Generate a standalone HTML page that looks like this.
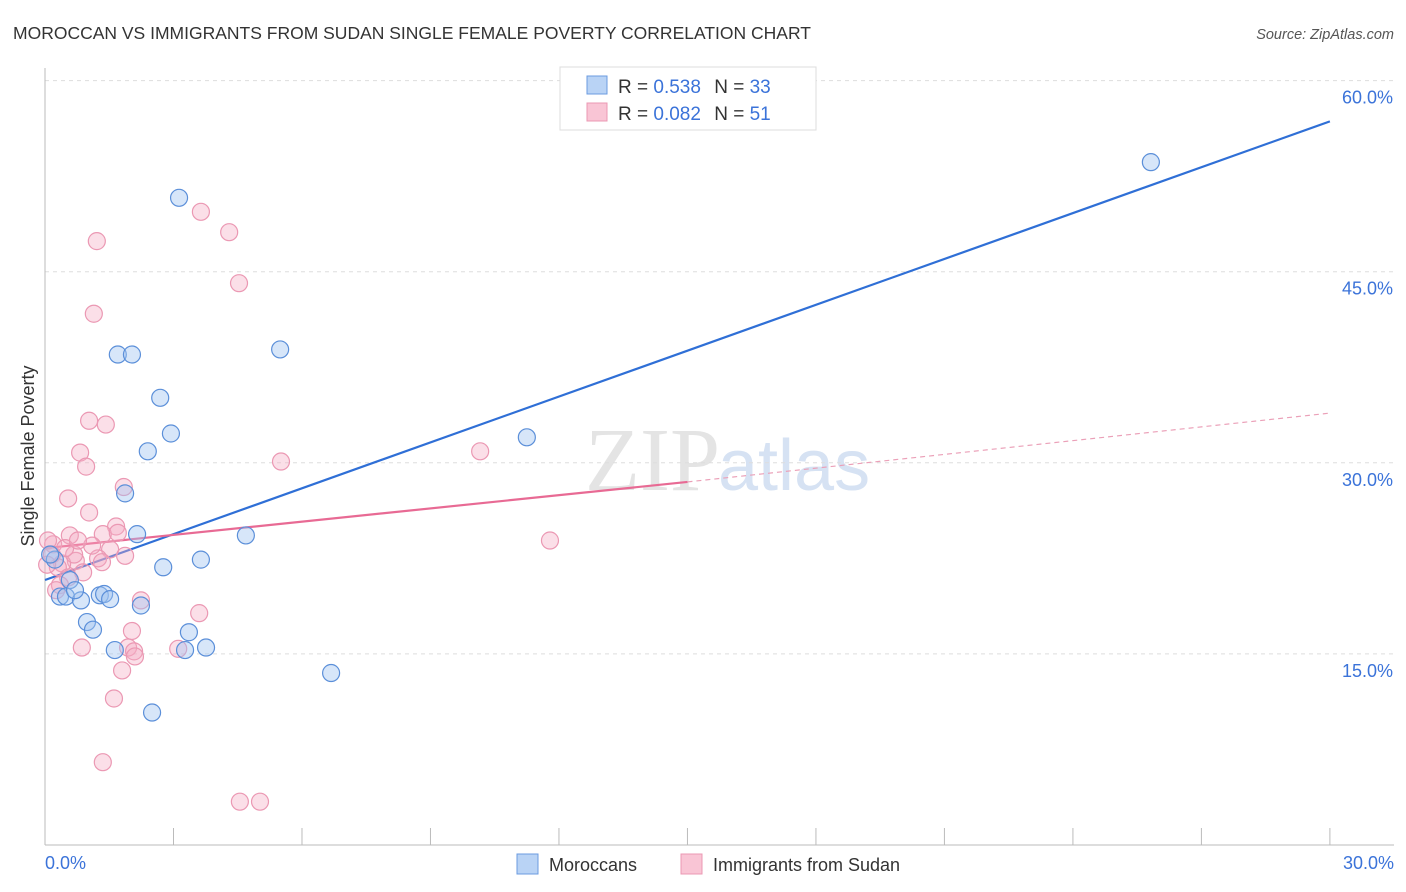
<!DOCTYPE html>
<html><head><meta charset="utf-8"><style>
body{margin:0;background:#fff;font-family:"Liberation Sans",sans-serif}
svg{display:block}
</style></head><body>
<svg id="chart" width="1406" height="892">
<text x="13" y="39" font-size="17.5" fill="#333">MOROCCAN VS IMMIGRANTS FROM SUDAN SINGLE FEMALE POVERTY CORRELATION CHART</text>
<text x="1394" y="39" font-size="14.5" fill="#555" font-style="italic" text-anchor="end">Source: ZipAtlas.com</text>
<text x="720" y="490" font-size="90" fill="#e4e4e4" text-anchor="end" font-family="Liberation Serif,serif">ZIP</text>
<text x="718" y="490" font-size="72" fill="#d6e2f3">atlas</text>
<g id="grid"></g><g id="axes"></g><g id="lines"></g><g id="pts"></g>
<text transform="translate(34,456) rotate(-90)" font-size="18" fill="#333" text-anchor="middle">Single Female Poverty</text>
<text x="45" y="869" font-size="18" fill="#3b73d9">0.0%</text>
<text x="1394" y="869" font-size="18" fill="#3b73d9" text-anchor="end">30.0%</text>
<g>
<rect x="560" y="67" width="256" height="63" fill="#fff" stroke="#ddd"/>
<rect x="587" y="76" width="20" height="18" fill="#b9d3f5" stroke="#6b9be0"/>
<rect x="587" y="103" width="20" height="18" fill="#f9c5d5" stroke="#eb98b3"/>
<text x="618" y="93" font-size="19" fill="#333">R = <tspan fill="#3b73d9">0.538</tspan>   <tspan dx="8">N = </tspan><tspan fill="#3b73d9">33</tspan></text>
<text x="618" y="120" font-size="19" fill="#333">R = <tspan fill="#3b73d9">0.082</tspan>   <tspan dx="8">N = </tspan><tspan fill="#3b73d9"> 51</tspan></text>
</g>
<g>
<rect x="517" y="854" width="21" height="20" fill="#b9d3f5" stroke="#6b9be0"/>
<text x="549" y="871" font-size="18" fill="#333">Moroccans</text>
<rect x="681" y="854" width="21" height="20" fill="#f9c5d5" stroke="#eb98b3"/>
<text x="713" y="871" font-size="18" fill="#333">Immigrants from Sudan</text>
</g>
</svg>
<script>
const yTicks=[15,30,45,60];
const xTicks=[0,3,6,9,12,15,18,21,24,27,30];
const blueX=[3.13,1.70,2.03,5.49,2.69,2.94,2.40,11.25,25.82,1.87,2.15,4.69,3.64,2.76,0.35,0.49,0.84,1.28,1.38,1.52,2.24,0.98,1.12,1.63,3.27,3.36,3.76,2.50,6.68,0.23,0.12,0.58,0.70];
const blueY=[50.8,38.5,38.5,38.9,35.1,32.3,30.9,32.0,53.6,27.6,24.4,24.3,22.4,21.8,19.5,19.5,19.2,19.6,19.7,19.3,18.8,17.5,16.9,15.3,15.3,16.7,15.5,10.4,13.5,22.4,22.8,20.8,20.0];
const pinkX=[3.64,4.30,1.21,4.53,1.14,1.03,1.42,0.82,0.96,5.51,10.16,0.54,1.84,1.03,1.66,1.35,0.58,1.70,11.79,1.52,0.19,0.07,1.87,1.24,1.33,0.72,0.40,0.30,0.89,0.54,0.35,2.24,3.60,2.03,0.86,1.94,2.08,2.10,3.11,1.80,1.61,1.35,4.55,5.02,0.16,0.05,0.26,1.10,0.68,0.47,0.77];
const pinkY=[49.7,48.1,47.4,44.1,41.7,33.3,33.0,30.8,29.7,30.1,30.9,27.2,28.1,26.1,25.0,24.4,24.3,24.5,23.9,23.2,23.6,23.9,22.7,22.5,22.2,22.3,22.1,21.8,21.4,21.0,20.4,19.2,18.2,16.8,15.5,15.5,15.2,14.8,15.4,13.7,11.5,6.5,3.4,3.4,22.8,22.0,20.0,23.5,22.8,23.3,23.9];
const blueTrend=[20.8,56.8];
const pinkTrend=[23.3,28.5,33.9];
const pinkSolidEnd=15;
const X=v=>45+v*42.83, Y=v=>845-v*12.74;
const NS="http://www.w3.org/2000/svg";
function mk(p,t,a){const e=document.createElementNS(NS,t);for(const k in a)e.setAttribute(k,a[k]);p.appendChild(e);return e;}
const grid=document.getElementById('grid'),axes=document.getElementById('axes'),lines=document.getElementById('lines'),pts=document.getElementById('pts');
yTicks.forEach(v=>{
 const l=mk(grid,'line',{x1:45,x2:1394,y1:Y(v),y2:Y(v),stroke:'#ddd','stroke-dasharray':'4,4'});
 
 
 const t=mk(grid,'text',{x:1393,y:Y(v)+23,'font-size':18,fill:'#3b73d9','text-anchor':'end'});
 t.textContent=v.toFixed(1)+'%';
 
 
});
const ax=mk(axes,'line',{x1:45,x2:45,y1:68,y2:845,stroke:'#bbb'});


const bx=mk(axes,'line',{x1:45,x2:1394,y1:845,y2:845,stroke:'#bbb'});


xTicks.forEach(v=>{
 const t=mk(axes,'line',{x1:X(v),x2:X(v),y1:828,y2:845,stroke:'#bbb'});
 
 
});
function dot(x,y,c,s,n){const e=mk(pts,'circle',{cx:X(x),cy:Y(y),r:8.5,fill:c,stroke:s,'stroke-width':1.2});
 
 }
pinkX.forEach((x,i)=>dot(x,pinkY[i],'rgba(244,170,195,0.38)','#eb98b3','sudan-point'));
blueX.forEach((x,i)=>dot(x,blueY[i],'rgba(160,195,240,0.42)','#5b8fd9','moroccan-point'));
const bl=mk(lines,'line',{x1:X(0),y1:Y(blueTrend[0]),x2:X(30),y2:Y(blueTrend[1]),stroke:'#2f6fd6','stroke-width':2.2});


const pl=mk(lines,'line',{x1:X(0),y1:Y(pinkTrend[0]),x2:X(pinkSolidEnd),y2:Y(pinkTrend[1]),stroke:'#e86a94','stroke-width':2.2});


const pd=mk(lines,'line',{x1:X(pinkSolidEnd),y1:Y(pinkTrend[1]),x2:X(30),y2:Y(pinkTrend[2]),stroke:'#eba0b8','stroke-width':1.2,'stroke-dasharray':'5,4'});


</script>
</body></html>
